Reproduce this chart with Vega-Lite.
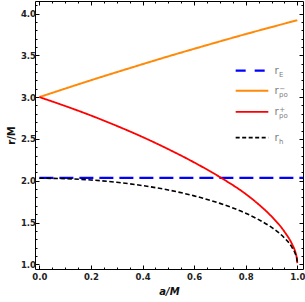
{
  "$schema": "https://vega.github.io/schema/vega-lite/v6.json",
  "width": 268,
  "height": 268,
  "autosize": {"type": "none"},
  "padding": {"left": 35, "top": 1, "right": 2, "bottom": 33},
  "background": "white",
  "config": {
    "view": {"stroke": "#000000", "strokeWidth": 1},
    "axis": {
      "grid": false,
      "domain": false,
      "tickColor": "#000000",
      "tickWidth": 1,
      "labelFont": "DejaVu Sans",
      "labelFontWeight": "bold",
      "labelFontSize": 8.5,
      "labelColor": "#222222",
      "labelFlush": false,
      "labelOverlap": false,
      "titleFont": "DejaVu Sans",
      "titleFontWeight": "bold",
      "titleFontSize": 10,
      "titleColor": "#111111"
    }
  },
  "datasets": {
    "curves": [
      {"a": 0, "r": 2.034, "s": "rE"},
      {"a": 1.03, "r": 2.034, "s": "rE"},
      {"a": 0, "r": 3.0, "s": "rpoM"},
      {"a": 0.1, "r": 3.102, "s": "rpoM"},
      {"a": 0.2, "r": 3.202, "s": "rpoM"},
      {"a": 0.3, "r": 3.299, "s": "rpoM"},
      {"a": 0.4, "r": 3.394, "s": "rpoM"},
      {"a": 0.5, "r": 3.488, "s": "rpoM"},
      {"a": 0.6, "r": 3.578, "s": "rpoM"},
      {"a": 0.7, "r": 3.667, "s": "rpoM"},
      {"a": 0.8, "r": 3.754, "s": "rpoM"},
      {"a": 0.9, "r": 3.838, "s": "rpoM"},
      {"a": 1.0, "r": 3.92, "s": "rpoM"},
      {"a": 0, "r": 3.0, "s": "rpoP"},
      {"a": 0.1, "r": 2.894, "s": "rpoP"},
      {"a": 0.2, "r": 2.78, "s": "rpoP"},
      {"a": 0.3, "r": 2.656, "s": "rpoP"},
      {"a": 0.4, "r": 2.523, "s": "rpoP"},
      {"a": 0.5, "r": 2.377, "s": "rpoP"},
      {"a": 0.6, "r": 2.219, "s": "rpoP"},
      {"a": 0.7, "r": 2.043, "s": "rpoP"},
      {"a": 0.8, "r": 1.841, "s": "rpoP"},
      {"a": 0.85, "r": 1.717, "s": "rpoP"},
      {"a": 0.9, "r": 1.573, "s": "rpoP"},
      {"a": 0.95, "r": 1.391, "s": "rpoP"},
      {"a": 0.98, "r": 1.24, "s": "rpoP"},
      {"a": 0.99, "r": 1.17, "s": "rpoP"},
      {"a": 0.995, "r": 1.117, "s": "rpoP"},
      {"a": 0.999, "r": 1.05, "s": "rpoP"},
      {"a": 1.0, "r": 1.015, "s": "rpoP"},
      {"a": 0, "r": 2.03, "s": "rh"},
      {"a": 0.1, "r": 2.025, "s": "rh"},
      {"a": 0.2, "r": 2.009, "s": "rh"},
      {"a": 0.3, "r": 1.981, "s": "rh"},
      {"a": 0.4, "r": 1.942, "s": "rh"},
      {"a": 0.5, "r": 1.889, "s": "rh"},
      {"a": 0.6, "r": 1.819, "s": "rh"},
      {"a": 0.7, "r": 1.729, "s": "rh"},
      {"a": 0.8, "r": 1.611, "s": "rh"},
      {"a": 0.85, "r": 1.535, "s": "rh"},
      {"a": 0.9, "r": 1.442, "s": "rh"},
      {"a": 0.95, "r": 1.315, "s": "rh"},
      {"a": 0.98, "r": 1.2, "s": "rh"},
      {"a": 0.99, "r": 1.142, "s": "rh"},
      {"a": 0.995, "r": 1.1, "s": "rh"},
      {"a": 0.999, "r": 1.045, "s": "rh"},
      {"a": 1.0, "r": 1.0, "s": "rh"}
    ],
    "legLines": [
      {"a": 0.761, "a2": 0.8876, "r": 3.316, "s": "rE"},
      {"a": 0.761, "a2": 0.8876, "r": 3.076, "s": "rpoM"},
      {"a": 0.761, "a2": 0.8876, "r": 2.824, "s": "rpoP"},
      {"a": 0.761, "a2": 0.8876, "r": 2.516, "s": "rh"}
    ],
    "legR": [
      {"a": 0.9116, "r": 3.316, "t": "r"},
      {"a": 0.9116, "r": 3.076, "t": "r"},
      {"a": 0.9116, "r": 2.824, "t": "r"},
      {"a": 0.9116, "r": 2.516, "t": "r"}
    ],
    "legSub": [
      {"a": 0.9116, "r": 3.316, "t": "E"},
      {"a": 0.9116, "r": 3.076, "t": "po"},
      {"a": 0.9116, "r": 2.824, "t": "po"},
      {"a": 0.9116, "r": 2.516, "t": "h"}
    ],
    "legSup": [
      {"a": 0.9116, "r": 3.076, "t": "−"},
      {"a": 0.9116, "r": 2.824, "t": "+"}
    ]
  },
  "layer": [
    {
      "data": {"name": "curves"},
      "mark": {"type": "line", "interpolate": "monotone", "clip": true},
      "encoding": {
        "x": {
          "field": "a", "type": "quantitative",
          "scale": {"domain": [-0.017, 1.022], "nice": false, "zero": false},
          "axis": {
            "orient": "bottom",
            "values": [0, 0.05, 0.1, 0.15, 0.2, 0.25, 0.3, 0.35, 0.4, 0.45, 0.5, 0.55, 0.6, 0.65, 0.7, 0.75, 0.8, 0.85, 0.9, 0.95, 1.0],
            "labelExpr": "abs(datum.value*5 - round(datum.value*5)) < 0.001 ? format(datum.value, '.1f') : ''",
            "tickSize": {"condition": {"test": "abs(datum.value*5 - round(datum.value*5)) < 0.001", "value": -4}, "value": -2},
            "labelPadding": 7,
            "title": "a/M",
            "titleFontStyle": "italic",
            "titlePadding": 4
          }
        },
        "y": {
          "field": "r", "type": "quantitative",
          "scale": {"domain": [0.944, 4.15], "nice": false, "zero": false},
          "axis": {
            "orient": "left",
            "values": [1.0, 1.1, 1.2, 1.3, 1.4, 1.5, 1.6, 1.7, 1.8, 1.9, 2.0, 2.1, 2.2, 2.3, 2.4, 2.5, 2.6, 2.7, 2.8, 2.9, 3.0, 3.1, 3.2, 3.3, 3.4, 3.5, 3.6, 3.7, 3.8, 3.9, 4.0, 4.1],
            "labelExpr": "abs(datum.value*2 - round(datum.value*2)) < 0.001 ? format(datum.value, '.1f') : ''",
            "tickSize": {"condition": {"test": "abs(datum.value*2 - round(datum.value*2)) < 0.001", "value": -4}, "value": -2},
            "labelPadding": 3.5,
            "title": "r/M",
            "titlePadding": 4
          }
        },
        "detail": {"field": "s"},
        "color": {
          "field": "s", "type": "nominal", "legend": null,
          "scale": {"domain": ["rE", "rpoM", "rpoP", "rh"], "range": ["#0000FF", "#FF8A0A", "#FF0000", "#000000"]}
        },
        "strokeDash": {
          "field": "s", "type": "nominal", "legend": null,
          "scale": {"domain": ["rE", "rpoM", "rpoP", "rh"], "range": [[14, 6], [1, 0], [1, 0], [4.5, 2.5]]}
        },
        "strokeWidth": {
          "field": "s", "type": "nominal", "legend": null,
          "scale": {"domain": ["rE", "rpoM", "rpoP", "rh"], "range": [2.2, 1.6, 1.7, 1.7]}
        }
      }
    },
    {
      "data": {"name": "legLines"},
      "mark": {"type": "rule"},
      "encoding": {
        "x": {
          "field": "a", "type": "quantitative",
          "axis": {
            "orient": "top",
            "values": [0, 0.05, 0.1, 0.15, 0.2, 0.25, 0.3, 0.35, 0.4, 0.45, 0.5, 0.55, 0.6, 0.65, 0.7, 0.75, 0.8, 0.85, 0.9, 0.95, 1.0],
            "labels": false,
            "tickSize": {"condition": {"test": "abs(datum.value*5 - round(datum.value*5)) < 0.001", "value": -4}, "value": -2},
            "title": null
          }
        },
        "x2": {"field": "a2"},
        "y": {
          "field": "r", "type": "quantitative",
          "axis": {
            "orient": "right",
            "values": [1.0, 1.1, 1.2, 1.3, 1.4, 1.5, 1.6, 1.7, 1.8, 1.9, 2.0, 2.1, 2.2, 2.3, 2.4, 2.5, 2.6, 2.7, 2.8, 2.9, 3.0, 3.1, 3.2, 3.3, 3.4, 3.5, 3.6, 3.7, 3.8, 3.9, 4.0, 4.1],
            "labels": false,
            "tickSize": {"condition": {"test": "abs(datum.value*2 - round(datum.value*2)) < 0.001", "value": -4}, "value": -2},
            "title": null
          }
        },
        "color": {"field": "s", "type": "nominal", "legend": null},
        "strokeDash": {
          "field": "s", "type": "nominal", "legend": null,
          "scale": {"domain": ["rE", "rpoM", "rpoP", "rh"], "range": [[10, 9], [1, 0], [1, 0], [4, 2.5]]}
        },
        "strokeWidth": {"field": "s", "type": "nominal", "legend": null}
      }
    },
    {
      "data": {"name": "legR"},
      "mark": {"type": "text", "align": "left", "baseline": "alphabetic", "dy": 3.6, "font": "DejaVu Sans", "fontSize": 10.5, "color": "#808080"},
      "encoding": {
        "x": {"field": "a", "type": "quantitative", "axis": null},
        "y": {"field": "r", "type": "quantitative", "axis": null},
        "text": {"field": "t"}
      }
    },
    {
      "data": {"name": "legSub"},
      "mark": {"type": "text", "align": "left", "baseline": "alphabetic", "dx": 4.5, "dy": 6, "font": "DejaVu Sans", "fontSize": 7, "color": "#808080"},
      "encoding": {
        "x": {"field": "a", "type": "quantitative", "axis": null},
        "y": {"field": "r", "type": "quantitative", "axis": null},
        "text": {"field": "t"}
      }
    },
    {
      "data": {"name": "legSup"},
      "mark": {"type": "text", "align": "left", "baseline": "alphabetic", "dx": 4.8, "dy": 0.3, "font": "DejaVu Sans", "fontSize": 7, "color": "#808080"},
      "encoding": {
        "x": {"field": "a", "type": "quantitative", "axis": null},
        "y": {"field": "r", "type": "quantitative", "axis": null},
        "text": {"field": "t"}
      }
    }
  ],
  "resolve": {
    "axis": {"x": "independent", "y": "independent"},
    "scale": {"strokeDash": "independent"}
  }
}
